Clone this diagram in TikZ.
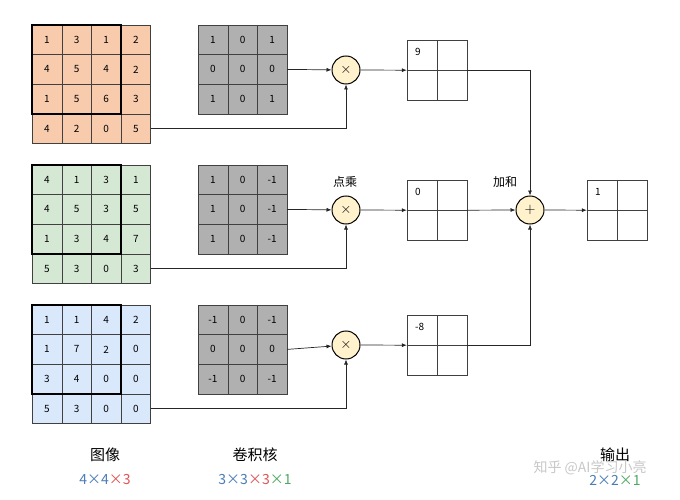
\documentclass[tikz,border=0pt]{standalone}
\usepackage{fontspec}
\setmainfont{Noto Sans CJK SC}
\usetikzlibrary{arrows.meta}
\definecolor{cred}{HTML}{F8CBAD}
\definecolor{cgreen}{HTML}{D5E8D4}
\definecolor{cblue}{HTML}{DAE8FC}
\definecolor{cgray}{HTML}{B0B0B0}
\definecolor{cyel}{HTML}{FFF2CC}
\definecolor{tblue}{HTML}{4A7DB5}
\definecolor{tred}{HTML}{E05555}
\definecolor{tgreen}{HTML}{4CA860}
\begin{document}
\begin{tikzpicture}[x=1pt,y=-1pt,
  cell/.style={draw=black!75,minimum size=29.5pt,inner sep=0pt,font=\fontsize{10}{11}\selectfont},
  ocell/.style={draw=black!75,minimum size=30pt,inner sep=2pt},
  op/.style={circle,draw=black,line width=1pt,fill=cyel,minimum size=28pt,inner sep=0pt,font=\fontsize{14}{14}\selectfont},
  arr/.style={-{Latex[length=5pt,width=4pt]},draw=black!85,line width=0.7pt},
  lab/.style={font=\fontsize{12}{13}\selectfont},
  ttl/.style={font=\fontsize{15}{16}\selectfont},
  dim/.style={font=\fontsize{14}{15}\selectfont}]
\useasboundingbox (0,0) rectangle (680,500);
% image grids
\foreach \g/\y/\col/\vals in {a/25/cred/{1,3,1,2,4,5,4,2,1,5,6,3,4,2,0,5},
  b/165/cgreen/{4,1,3,1,4,5,3,5,1,3,4,7,5,3,0,3},
  c/305/cblue/{1,1,4,2,1,7,2,0,3,4,0,0,5,3,0,0}}{
  \foreach \v [count=\i from 0] in \vals {
    \pgfmathtruncatemacro\r{int(\i/4)}
    \pgfmathtruncatemacro\c{mod(\i,4)}
    \node[cell,fill=\col] (\g\i) at ({47+29.6*\c},{\y+14.8+29.6*\r}) {\v};
  }
  \draw[line width=1.8pt] (\g0.north west) rectangle (\g10.south east);
}
% kernels
\foreach \g/\y/\vals in {ka/25/{1,0,1,0,0,0,1,0,1},
  kb/165/{1,0,-1,1,0,-1,1,0,-1},
  kc/305/{-1,0,-1,0,0,0,-1,0,-1}}{
  \foreach \v [count=\i from 0] in \vals {
    \pgfmathtruncatemacro\r{int(\i/3)}
    \pgfmathtruncatemacro\c{mod(\i,3)}
    \node[cell,fill=cgray] (\g\i) at ({213+29.6*\c},{\y+14.8+29.6*\r}) {\v};
  }
}
% ops
\node[op] (m1) at (346,70) {$\times$};
\node[op] (m2) at (346,210) {$\times$};
\node[op] (m3) at (346,345) {$\times$};
\node[op] (s) at (530,210) {$+$};
% output grids
\foreach \g/\x/\y/\v in {oa/407/40/9,ob/407/180/0,oc/407/315/-8,of/587/180/1}{
  \node[ocell] (\g0) at ({\x+15},{\y+15}) {};
  \node[anchor=north west,inner sep=0pt,font=\fontsize{10}{11}\selectfont] (\g v) at ({\x+8},{\y+8}) {\v};
  \node[ocell] (\g1) at ({\x+45},{\y+15}) {};
  \node[ocell] (\g2) at ({\x+15},{\y+45}) {};
  \node[ocell] (\g3) at ({\x+45},{\y+45}) {};
}
% connectors
\draw[arr] (ka5.east) -- (m1);
\draw[arr] (kb5.east) -- (m2);
\draw[arr] (kc5.east) -- (m3);
\draw[arr] (a15.east) -| (m1.south);
\draw[arr] (b15.east) -| (m2.south);
\draw[arr] (c15.east) -| (m3.south);
\draw[arr] (m1.east) -- (oa0.south west);
\draw[arr] (m2.east) -- (ob0.south west);
\draw[arr] (m3.east) -- (oc0.south west);
\draw[arr] (oa1.south east) -| (s.north);
\draw[arr] (ob1.south east) -- (s.west);
\draw[arr] (oc1.south east) -| (s.south);
\draw[arr] (s.east) -- (of0.south west);
% labels
\node[lab] (l1) at (345,182) {点乘};
\node[lab] (l2) at (505,182) {加和};
\node[ttl] (t1) at (105,455) {图像};
\node[dim] (d1) at (105,480) {\textcolor{tblue}{4×4}\textcolor{tred}{×3}};
\node[ttl] (t2) at (255,455) {卷积核};
\node[dim] (d2) at (255,480) {\textcolor{tblue}{3×3}\textcolor{tred}{×3}\textcolor{tgreen}{×1}};
\node[ttl] (t3) at (615,455) {输出};
\node[dim] (d3) at (615,480) {\textcolor{tblue}{2×2}\textcolor{tgreen}{×1}};
\node[font=\fontsize{14}{15}\selectfont,text=black!22] (wm) at (590,468) {知乎 @AI学习小亮};
\end{tikzpicture}
\end{document}
